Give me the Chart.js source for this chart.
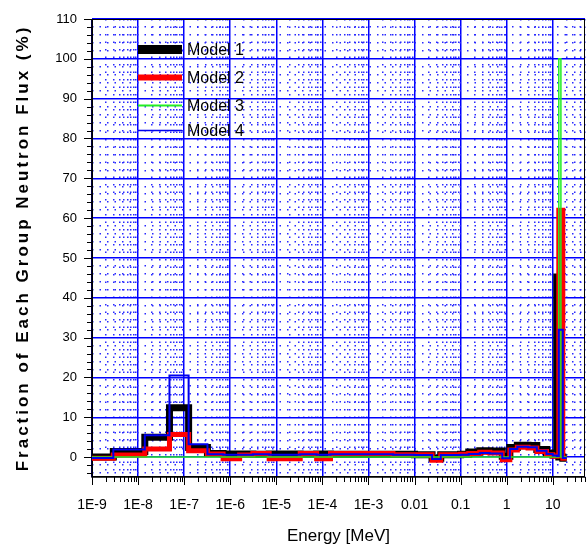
<!DOCTYPE html>
<html><head><meta charset="utf-8">
<script src="https://cdn.jsdelivr.net/npm/chart.js@4.4.0/dist/chart.umd.min.js"></script>
<style>html,body{margin:0;padding:0;background:#fff;}#wrap{width:587px;height:549px;}</style>
</head><body><div id="wrap"><canvas id="c" width="587" height="549"></canvas></div>
<script>
// ---- data (energy group boundaries in MeV, fraction of flux in %) ----
const groupEdges = [1e-9, 2.9e-9, 1.4e-8, 4.8e-8, 1.25e-7, 3.2e-7, 7e-7, 1.6e-6, 3.1e-6, 7e-6,
  3.3e-5, 7.5e-5, 1.5e-4, 3.4e-3, 0.01, 0.024, 0.037, 0.1, 0.15, 0.26, 0.43, 0.8, 1.17,
  1.7, 2.9, 4.5, 7.3, 10, 12.2, 13.5, 15, 16.5, 20];
const model1 = [0.0, 1.4, 5.0, 12.4, 2.4, 0.9, 0.8, 0.8, 0.7, 0.8, 0.7, 0.8, 0.7, 0.7, 0.6, -0.3,
  0.6, 0.7, 1.3, 1.6, 1.5, 0.2, 2.4, 3.0, 2.9, 1.9, 1.0, 0.5, 45.2, 0.0, 0.0, -0.3];
const model2 = [-0.3, 0.5, 2.0, 5.7, 1.6, 0.8, -0.4, 0.5, 0.9, -0.4, 0.9, -0.4, 0.9, 0.6, 0.6, -0.8,
  0.6, 0.7, 0.9, 1.2, 1.0, -0.7, 1.8, 2.5, 2.3, 1.4, 0.6, 0.2, 0.3, 62.0, 62.0, -0.3];
const model3 = [0.0, 0.0, 0.0, 0.0, 0.0, 0.0, 0.0, 0.0, 0.0, 0.0, 0.0, 0.0, 0.0, 0.0, 0.0, 0.0,
  0.0, 0.0, 0.0, 0.0, 0.0, 0.0, 0.0, 0.0, 0.0, 0.0, 0.0, 0.0, 0.0, 100.0, 0.0, 0.0];
const model4 = [-0.2, 1.9, 5.5, 20.5, 3.2, 0.7, 0.6, 0.6, 0.7, 0.6, 0.7, 0.6, 0.7, 0.6, 0.5, -0.5,
  0.5, 0.6, 0.8, 1.0, 0.9, -0.3, 2.0, 2.6, 2.5, 1.6, 0.8, 0.4, 0.3, 32.0, 32.0, -0.2];
const seriesLabels = ['Model 1', 'Model 2', 'Model 3', 'Model 4'];
const xDecades = [1e-9, 1e-8, 1e-7, 1e-6, 1e-5, 1e-4, 1e-3, 0.01, 0.1, 1, 10];
const xTickLabels = ['1E-9', '1E-8', '1E-7', '1E-6', '1E-5', '1E-4', '1E-3', '0.01', '0.1', '1', '10'];
const yTickLabels = [0, 10, 20, 30, 40, 50, 60, 70, 80, 90, 100, 110];

// ---- helpers ----
const FONT = '"Liberation Sans", Arial, sans-serif';
function stepPoints(vals) {
  return groupEdges.map((e, i) => ({ x: e, y: vals[Math.min(i, vals.length - 1)] }));
}
function isMajorX(v) { return xDecades.some(d => Math.abs(v / d - 1) < 1e-6); }
function isMajorY(v) { return yTickLabels.includes(v); }

// letter-spaced y-axis title (the reference title is widely tracked)
const origDrawTitle = Chart.LinearScale.prototype.drawTitle;
Chart.LinearScale.prototype.drawTitle = function () {
  const c = this.ctx;
  const has = 'letterSpacing' in c;
  const prev = has ? c.letterSpacing : null;
  if (has) c.letterSpacing = '3px';
  origDrawTitle.call(this);
  if (has) c.letterSpacing = prev;
};

const frameAndTicks = {
  id: 'frameAndTicks',
  beforeDatasetsDraw(chart) {
    const { ctx, chartArea: a } = chart;
    ctx.save();
    ctx.strokeStyle = '#000';
    ctx.lineWidth = 1;
    ctx.strokeRect(a.left + 0.5, a.top + 0.5, a.right - a.left - 1, a.bottom - a.top - 1);
    ctx.lineWidth = 1.5;
    ctx.beginPath();
    ctx.moveTo(a.left, a.top); ctx.lineTo(a.left, a.bottom); ctx.lineTo(a.right, a.bottom);
    ctx.stroke();
    ctx.restore();
  },
  afterDraw(chart) {
    const { ctx, chartArea: a, scales: { x, y } } = chart;
    ctx.save();
    ctx.strokeStyle = '#000';
    ctx.lineWidth = 1;
    x.ticks.forEach(t => {
      const px = Math.round(x.getPixelForValue(t.value)) + 0.5;
      const len = isMajorX(t.value) ? 8 : 5;
      ctx.beginPath(); ctx.moveTo(px, a.bottom); ctx.lineTo(px, a.bottom + len); ctx.stroke();
    });
    y.ticks.forEach(t => {
      const py = Math.round(y.getPixelForValue(t.value)) + 0.5;
      const len = isMajorY(t.value) ? 8 : 5;
      ctx.beginPath(); ctx.moveTo(a.left, py); ctx.lineTo(a.left - len, py); ctx.stroke();
    });
    ctx.restore();
  }
};

const legendInside = {
  id: 'legendInside',
  afterDraw(chart) {
    const ctx = chart.ctx;
    const rows = [49.5, 77.5, 105.5, 130.5];
    const sampleW = [9, 6, 2, 1.5];
    ctx.save();
    ctx.font = '16px ' + FONT;
    ctx.textBaseline = 'middle';
    ctx.textAlign = 'left';
    chart.data.datasets.forEach((ds, i) => {
      ctx.strokeStyle = ds.borderColor;
      ctx.lineWidth = sampleW[i];
      ctx.lineCap = 'butt';
      ctx.beginPath(); ctx.moveTo(138, rows[i]); ctx.lineTo(182, rows[i]); ctx.stroke();
      ctx.fillStyle = '#000';
      ctx.fillText(ds.label, 187, rows[i] + 1);
    });
    ctx.restore();
  }
};

const mk = (i, vals, color, width, order) => ({
  label: seriesLabels[i], data: stepPoints(vals), borderColor: color, backgroundColor: color,
  borderWidth: width, stepped: 'before', pointRadius: 0, fill: false, order: order,
  borderJoinStyle: 'miter', borderCapStyle: 'butt', tension: 0
});

new Chart(document.getElementById('c'), {
  type: 'line',
  data: {
    datasets: [
      mk(0, model1, '#000000', 7, 4),
      mk(1, model2, '#ff0000', 5, 3),
      mk(2, model3, '#22ee22', 1.5, 2),
      mk(3, model4, '#0000ee', 2, 1)
    ]
  },
  options: {
    responsive: false,
    animation: false,
    devicePixelRatio: 1,
    layout: { padding: { top: 19, right: 2, left: 0, bottom: 0 } },
    plugins: { legend: { display: false }, tooltip: { enabled: false } },
    scales: {
      x: {
        type: 'logarithmic', min: 1e-9, max: 50,
        afterBuildTicks: s => {
          const t = [];
          xDecades.forEach(d => { for (let k = 1; k <= 9; k++) { const v = k * d; if (v <= s.max * 1.0001) t.push({ value: v }); } });
          s.ticks = t;
        },
        afterFit: s => { s.height = 72; s.paddingLeft = 0; s.paddingRight = 0; },
        ticks: {
          autoSkip: false, maxRotation: 0, minRotation: 0, padding: 20, color: '#000',
          font: { size: 14, family: FONT },
          callback: v => { const i = xDecades.findIndex(d => Math.abs(v / d - 1) < 1e-6); return i >= 0 ? xTickLabels[i] : ''; }
        },
        grid: {
          drawTicks: false,
          color: ctx => (ctx.tick && isMajorX(ctx.tick.value)) ? '#0000ff' : '#2a2aff',
          lineWidth: 1.5
        },
        border: { display: false, dash: ctx => (ctx.type === 'tick' && ctx.tick && !isMajorX(ctx.tick.value)) ? [1.5, 6] : [] },
        title: { display: true, text: 'Energy [MeV]', color: '#000', font: { size: 17, family: FONT }, padding: { top: 0, bottom: 2 } }
      },
      y: {
        type: 'linear', min: -5, max: 110,
        afterBuildTicks: s => {
          const t = [];
          for (let v = -4; v <= 110; v += 2) t.push({ value: v });
          s.ticks = t;
        },
        afterFit: s => { s.width = 92; s.paddingTop = 0; s.paddingBottom = 0; },
        ticks: {
          autoSkip: false, padding: 15, color: '#000', font: { size: 13, family: FONT },
          callback: v => isMajorY(v) ? String(v) : ''
        },
        grid: {
          drawTicks: false,
          color: ctx => (ctx.tick && isMajorY(ctx.tick.value)) ? '#0000ff' : '#2a2aff',
          lineWidth: 1.5
        },
        border: { display: false, dash: ctx => (ctx.type === 'tick' && ctx.tick && !isMajorY(ctx.tick.value)) ? [1.5, 6] : [] },
        title: { display: true, text: 'Fraction of Each Group Neutron Flux (%)', color: '#000', font: { size: 17, weight: 'bold', family: FONT }, padding: { top: 13, bottom: 0 } }
      }
    }
  },
  plugins: [frameAndTicks, legendInside]
});
</script></body></html>
